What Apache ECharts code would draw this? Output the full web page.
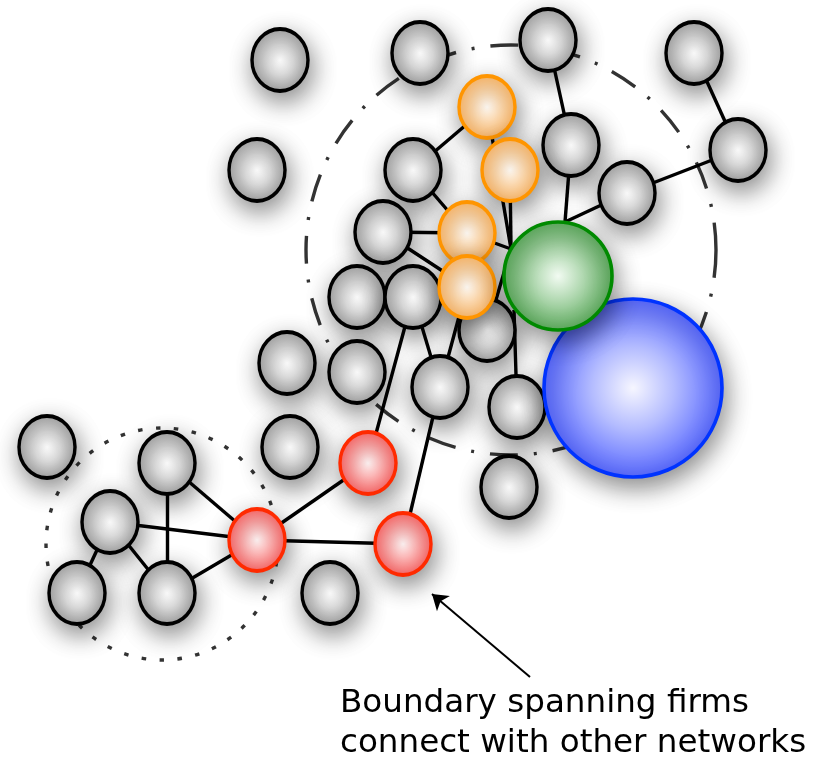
<!DOCTYPE html>
<html>
<head>
<meta charset="utf-8">
<script src="https://cdn.jsdelivr.net/npm/echarts@6/dist/echarts.min.js"></script>
<style>
  html, body { margin: 0; padding: 0; background: #ffffff; }
  #chart { width: 820px; height: 767px; }
</style>
</head>
<body>
<div id="chart"></div>
<script>
// ---- Data ----
// node ids, kinds and positions (in the picture's own units: x right, y down)
const nodeIds   = ['n1','n2','n3','n4','n5','n6','n7','n8','n9','n10','n11','n12','n13','n14','n15','n16','n17','n18','n19','n20','n21','n22','n23','n24','n25',
                   'o1','o2','o3','o4','r1','r2','r3','blue','green','gLeft','gTop','gBL'];
const nodeKinds = ['gray','gray','gray','gray','gray','gray','gray','gray','gray','gray','gray','gray','gray','gray','gray','gray','gray','gray','gray','gray','gray','gray','gray','gray','gray',
                   'orange','orange','orange','orange','red','red','red','blue','green','port','port','port'];
const nodeX     = [280,420,548,694,738,571,627,257,413,383,357,413,487,287,357,440,517,509,47,167,110,77,167,290,330,
                   487,510,467,467,368,257,403,633,558,511,565,514];
const nodeY     = [60,53,40,53,150,145,193,170,170,232,297,297,330,363,372,387,407,487,447,463,522,593,593,447,593,
                   107,170,233,287,463,540,544,388,276,249,222,310];

// links between nodes
const linkSources = ['n3','n4','n5','n6','n7','n9','n9','n10','n10','o1','o2','o3','n13','n12','n12','o4','gBL','n16','r1','r2','n20','n20','n21','n21','n21','n23'];
const linkTargets = ['n6','n5','n7','gTop','gTop','o1','o3','o3','o4','gLeft','gLeft','gLeft','gLeft','r1','n16','n16','n17','r3','r2','r3','n23','r2','r2','n22','n23','r2'];

// dashed "network boundary" circles: centre and diameter
const ringNames    = ['main network','other network'];
const ringCentreX  = [511,162];
const ringCentreY  = [250,544];
const ringDiameter = [410,232];

// annotation
const arrowFrom = [530,677];
const arrowTo   = [432,594];
const caption   = ['Boundary spanning firms','connect with other networks'];

// ---- Styles ----
function radial(c0, c1, c2) {
  return { type: 'radial', x: 0.5, y: 0.5, r: 0.5,
           colorStops: [{ offset: 0, color: c0 }, { offset: 0.45, color: c1 }, { offset: 1, color: c2 }] };
}
const kindStyle = {
  gray:   { size: [56, 62],  fill: radial('#ffffff', '#dcdcdc', '#a2a2a2'), border: '#000000' },
  orange: { size: [56, 62],  fill: radial('#fffaf4', '#ffdcb2', '#ffb866'), border: '#ff9500' },
  red:    { size: [56, 62],  fill: radial('#fff4f4', '#ffb4b4', '#ff6464'), border: '#ff2a00' },
  green:  { size: [108, 108], fill: radial('#f2fbf2', '#b0d8b0', '#5aaa5a'), border: '#008a00' },
  blue:   { size: [178, 178], fill: radial('#f6f6ff', '#b4bcff', '#5566ff'), border: '#0033ff' }
};
const ELLIPSE = 'path://M0,50 C0,22.4 22.4,0 50,0 C77.6,0 100,22.4 100,50 C100,77.6 77.6,100 50,100 C22.4,100 0,77.6 0,50 Z';

const nodes = nodeIds.map(function (id, i) {
  const k = nodeKinds[i];
  if (k === 'port') {
    return { name: id, value: [nodeX[i], nodeY[i]], symbolSize: 1,
             itemStyle: { opacity: 0 } };
  }
  const s = kindStyle[k];
  return {
    name: id, value: [nodeX[i], nodeY[i]], symbol: ELLIPSE, symbolSize: s.size,
    itemStyle: { color: s.fill, borderColor: s.border, borderWidth: 3.6,
                 shadowBlur: 24, shadowColor: 'rgba(0,0,0,0.45)', shadowOffsetX: 3, shadowOffsetY: 9 }
  };
});
const links = linkSources.map(function (s, i) { return { source: s, target: linkTargets[i] }; });

const chart = echarts.init(document.getElementById('chart'), null, { renderer: 'canvas' });
chart.setOption({
  animation: false,
  backgroundColor: '#ffffff',
  grid: { left: 0, right: 0, top: 0, bottom: 0 },
  xAxis: { type: 'value', min: 0, max: 820, show: false },
  yAxis: { type: 'value', min: 0, max: 767, inverse: true, show: false },
  series: [
    {
      type: 'scatter', z: 1, silent: true,
      data: ringNames.map(function (n, i) {
        return {
          name: n, value: [ringCentreX[i], ringCentreY[i]], symbolSize: ringDiameter[i],
          itemStyle: {
            color: 'rgba(0,0,0,0)', borderColor: '#000', borderWidth: 3.4,
            borderType: i === 0 ? [28, 16, 3, 16] : [4.5, 13.5], borderCap: 'butt'
          }
        };
      })
    },
    {
      type: 'lines', coordinateSystem: 'cartesian2d', z: 2, silent: true,
      symbol: ['none', 'arrow'], symbolSize: 15,
      lineStyle: { color: '#000', width: 2, opacity: 1 },
      data: [{ coords: [arrowFrom, arrowTo] }]
    },
    {
      type: 'graph', coordinateSystem: 'cartesian2d', z: 3, silent: true,
      layout: 'none', roam: false,
      label: { show: false },
      emphasis: { disabled: true },
      lineStyle: { color: '#000', width: 3.4, opacity: 1, curveness: 0 },
      data: nodes,
      links: links
    }
  ],
  graphic: [
    {
      type: 'text', left: 340, top: 684, silent: true,
      style: { text: caption.join('\n'), fill: '#000', font: '32.6px "DejaVu Sans"', lineHeight: 40 }
    }
  ]
});
</script>
</body>
</html>
